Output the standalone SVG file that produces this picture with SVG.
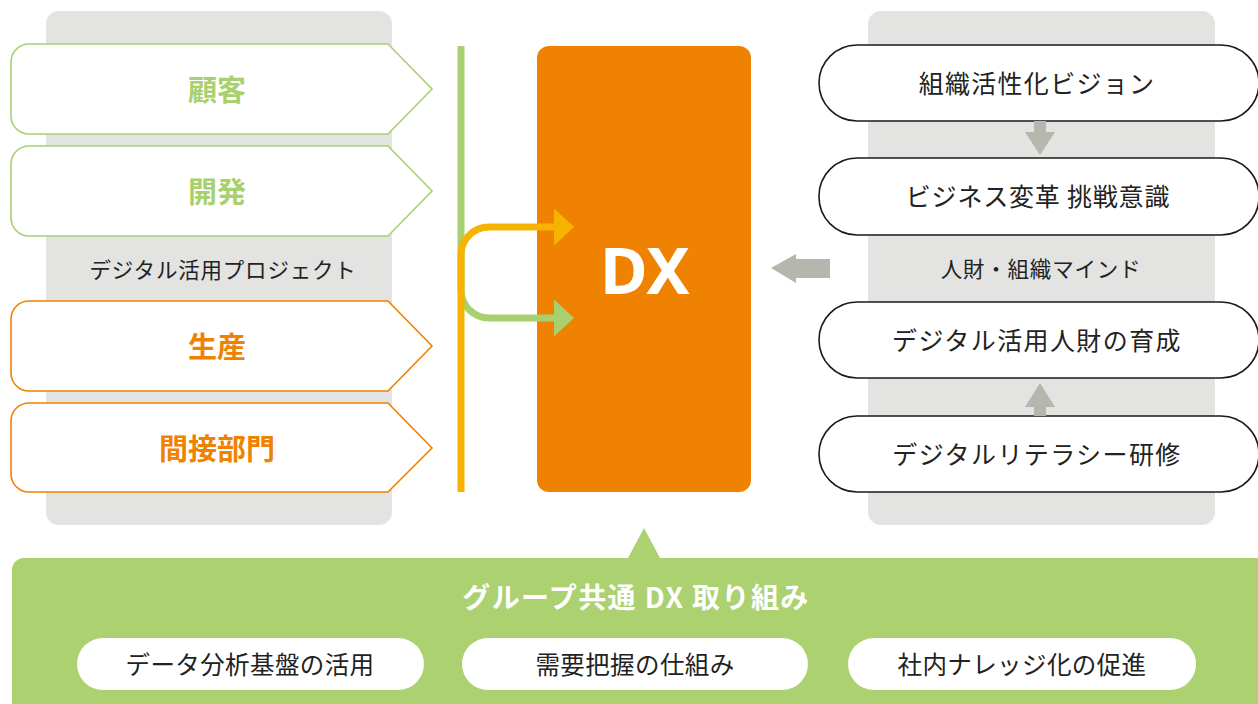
<svg xmlns="http://www.w3.org/2000/svg" width="1258" height="704" viewBox="0 0 1258 704">
<style>
.panel{fill:#e3e3e1}
.tab{fill:#fff;stroke-width:1.6}
.g{stroke:#a9d06e}
.o{stroke:#ef8200}
.lbl{font-family:"Noto Sans CJK JP","Noto Sans",sans-serif;font-weight:700;font-size:29px;text-anchor:middle;dominant-baseline:central}
.pill{fill:#fff;stroke:#1a1a1a;stroke-width:1.6}
.t{font-family:"Noto Sans CJK JP","Noto Sans",sans-serif;fill:#222;text-anchor:middle;dominant-baseline:central}
.wp{fill:#fff}
.garrow{fill:#b5b6ae}
</style>
<defs>
<marker id="ay" viewBox="0 0 20 37" refX="0" refY="18.5" markerWidth="20" markerHeight="37" markerUnits="userSpaceOnUse" orient="auto"><path d="M0 0L20 18.5L0 37Z" fill="#f6b400"/></marker>
<marker id="ag" viewBox="0 0 20 37" refX="0" refY="18.5" markerWidth="20" markerHeight="37" markerUnits="userSpaceOnUse" orient="auto"><path d="M0 0L20 18.5L0 37Z" fill="#a9d06e"/></marker>
</defs>
<g id="left-panel"><rect class="panel" x="46" y="11" width="346" height="514" rx="13"/>
<text class="t" x="223" y="268" font-size="21.5" letter-spacing="0.8">デジタル活用プロジェクト</text></g>
<g id="right-panel"><rect class="panel" x="868" y="11" width="347" height="514" rx="13"/>
<text class="t" x="1041" y="267" font-size="21.5" letter-spacing="0.8">人財・組織マインド</text></g>
<g id="node-kokyaku"><path class="tab g" d="M29 44H388L432 89L388 134H29A18 18 0 0 1 11 116V62A18 18 0 0 1 29 44Z"/><text class="lbl" x="217" y="88" fill="#a9d06e">顧客</text></g>
<g id="node-kaihatsu"><path class="tab g" d="M29 146H388L432 191L388 236H29A18 18 0 0 1 11 218V164A18 18 0 0 1 29 146Z"/><text class="lbl" x="217" y="190" fill="#a9d06e">開発</text></g>
<g id="node-seisan"><path class="tab o" d="M29 301H388L432 346L388 391H29A18 18 0 0 1 11 373V319A18 18 0 0 1 29 301Z"/><text class="lbl" x="217" y="345" fill="#ef8200">生産</text></g>
<g id="node-kansetsu"><path class="tab o" d="M29 403H388L432 448L388 492H29A18 18 0 0 1 11 474V421A18 18 0 0 1 29 403Z"/><text class="lbl" x="217" y="447" fill="#ef8200">間接部門</text></g>
<g id="node-dx"><rect x="537" y="46" width="214" height="446" rx="12" fill="#ef8200"/><text x="645" y="269" font-family="'Noto Sans','Open Sans',sans-serif" font-weight="700" font-size="65" fill="#fff" text-anchor="middle" dominant-baseline="central">DX</text></g>
<g id="node-vision"><rect class="pill" x="819" y="45" width="440" height="76" rx="38"/><text class="t" x="1037" y="82" font-size="25" letter-spacing="1.3">組織活性化ビジョン</text></g>
<g id="node-business"><rect class="pill" x="819" y="158" width="440" height="77" rx="38"/><text class="t" x="1038" y="195" font-size="25" letter-spacing="0.8">ビジネス変革 挑戦意識</text></g>
<g id="node-jinzai"><rect class="pill" x="819" y="302" width="440" height="76" rx="38"/><text class="t" x="1037" y="339" font-size="25" letter-spacing="1.4">デジタル活用人財の育成</text></g>
<g id="node-literacy"><rect class="pill" x="819" y="416" width="440" height="76" rx="38"/><text class="t" x="1037" y="453" font-size="25" letter-spacing="1.4">デジタルリテラシー研修</text></g>
<g id="node-group"><path d="M24 558H628L644 528L660 558H1258V704H12V570A12 12 0 0 1 24 558Z" fill="#acd170"/>
<text x="636" y="596" font-family="'Noto Sans CJK JP','Noto Sans',sans-serif" font-weight="700" font-size="28" letter-spacing="1.4" fill="#fff" text-anchor="middle" dominant-baseline="central">グループ共通 DX 取り組み</text></g>
<g id="node-data"><rect class="wp" x="77" y="638" width="347" height="52" rx="26"/><text class="t" x="250" y="663" font-size="24.5" letter-spacing="0.4">データ分析基盤の活用</text></g>
<g id="node-demand"><rect class="wp" x="462" y="638" width="346" height="52" rx="26"/><text class="t" x="635" y="663" font-size="24.5" letter-spacing="0.4">需要把握の仕組み</text></g>
<g id="node-knowledge"><rect class="wp" x="848" y="638" width="348" height="52" rx="26"/><text class="t" x="1022" y="663" font-size="24.5" letter-spacing="0.4">社内ナレッジ化の促進</text></g>
<g id="connectors">
<path d="M461 46V290A28 28 0 0 0 489 318H554" fill="none" stroke="#a9d06e" stroke-width="7" marker-end="url(#ag)"/>
<path d="M461 492V255A28 28 0 0 1 489 227H554" fill="none" stroke="#f6b400" stroke-width="7" marker-end="url(#ay)"/>
<path class="garrow" d="M1034 121H1046V132H1055L1040 155L1025 132H1034Z"/>
<path class="garrow" d="M1034 416H1046V407H1055L1040 383L1025 407H1034Z"/>
<path class="garrow" d="M830 259V278H796V283L771 268L796 254V259Z"/>
</g>
</svg>
